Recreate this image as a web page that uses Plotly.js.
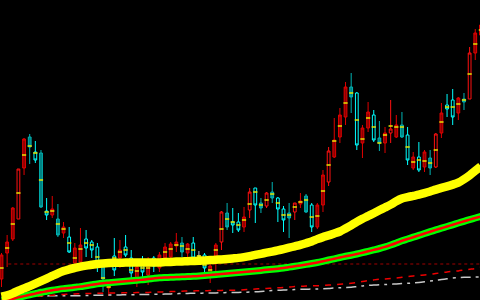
<!DOCTYPE html>
<html>
<head>
<meta charset="utf-8">
<script src="https://cdn.plot.ly/plotly-3.0.1.min.js"></script>
<style>html,body{margin:0;padding:0;background:#000;}#chart{width:480px;height:300px;}</style>
</head>
<body>
<div id="chart"></div>
<script>
// OHLC values (price units), one per bar
const openP = [21,47,61,81,132,163,148,147,89,85, 81,67,63,37,38,61,58,53,36,12, 44,42,53,42,20,35,25,42,32,42, 43,54,57,47,57,44,45,25,43,58, 87,78,78,73,90,112,97,94,108,102, 91,87,88,96,104,95,73,95,118,143, 163,183,213,207,157,172,185,162,157,167, 163,175,165,132,143,133,142,133,167,195, 200,187,201,201,247,265];
const closeP = [45,58,92,131,161,153,140,93,85,91, 65,73,48,52,55,52,50,33,21,14, 30,50,45,27,33,28,35,34,45,53, 56,58,48,56,42,44,32,34,55,88, 73,75,70,83,108,95,92,107,102,91, 80,82,97,99,88,73,95,125,149,160, 185,213,203,155,172,188,160,157,167,171, 175,163,140,143,130,148,132,166,187,191, 183,202,198,247,267,275];
const highP = [47,65,93,131,162,166,159,150,102,104, 96,78,73,57,72,70,60,57,38,15, 62,60,65,50,38,44,43,44,48,57, 58,67,63,57,63,49,47,37,57,89, 97,92,87,93,112,112,102,108,118,103, 94,97,97,107,106,97,97,130,153,182, 192,218,227,208,175,198,190,179,173,200, 185,188,173,148,158,150,150,167,197,206, 211,203,207,253,271,278];
const lowP = [13,33,59,81,125,136,137,92,80,82, 63,62,47,30,32,43,42,28,8,4, 24,32,43,22,13,23,15,28,28,38, 40,48,43,42,38,41,27,17,28,50, 70,67,68,68,82,77,87,92,97,78, 68,62,80,92,87,68,71,88,114,142, 157,175,187,150,142,168,158,149,147,157, 162,162,135,130,128,128,125,132,162,183, 175,180,190,201,240,260];
// yellow tick mark in each body
const avgP = [32,52,76,107,145,154,147,120,88,89, 76,71,57,42,51,57,55,43,22,13, 42,48,50,30,29,32,32,36,40,48, 51,55,54,51,50,44,35,30,50,71, 81,78,75,80,96,108,95,100,106,97, 85,85,93,98,100,83,84,109,135,159, 174,197,207,180,161,182,173,157,165,174, 173,173,153,138,140,139,137,150,178,193, 193,196,200,226,256,270];
// body style: f = filled, h = hollow, g = gray doji
const bodyStyle = "fffhffhfhf" + "ffhffhhhff" + "hfhhfhfhff" + "ffffhghffh" + "fhhfhhfhfh" + "hfhffhffhf" + "fffhffhffh" + "ffhfhffhfh" + "hffhff";
// moving averages
const maYellow = [3.4,4.7,6.7,9.4,11.6,13.9,16.3,18.8,21.4,24.1, 26.7,28.9,30.7,32.1,33.4,34.4,35.2,36.0,36.5,36.9, 37.2,37.3,37.4,37.4,37.5,37.5,37.5,37.6,37.6,37.9, 38.1,38.4,38.6,38.8,39.0,39.2,39.6,39.9,40.2,40.6, 41.1,41.6,42.1,42.9,43.9,45.1,46.2,47.3,48.4,49.6, 50.9,52.3,53.7,55.1,56.8,58.6,60.9,62.9,64.6,66.5, 68.5,71.5,74.7,78.1,81.2,84.0,86.8,89.7,92.5,95.4, 98.8,101.5,102.9,104.1,105.3,106.8,108.5,110.4,112.1,113.7, 115.4,117.4,120.8,124.7,129.2,133.7];
const maGreen = [-0.8,0,1.2,2.6,3.9,5.2,6.4,7.7,8.7,9.7, 10.6,11.4,12.0,12.7,13.4,14.3,15.2,16.1,16.8,17.3, 17.8,18.3,18.8,19.3,19.7,20.3,20.9,21.6,22.2,22.5, 22.7,22.9,23.2,23.5,23.7,24.0,24.4,24.9,25.4,25.9, 26.4,26.9,27.4,27.9,28.5,29.0,29.6,30.2,30.7,31.3, 32.0,32.9,33.7,34.6,35.6,36.5,37.5,38.7,40.0,41.2, 42.5,43.7,44.8,46.0,47.3,48.7,50.1,51.5,53.1,55.0, 57.0,59.2,61.0,62.8,64.6,66.5,68.3,70.1,71.8,73.5, 75.2,77.0,78.7,80.4,82.0,83.5];
const maRedDash = [1.0,1.5,2.0,2.4,2.8,3.2,3.6,4.0,4.4,4.8, 5.2,5.5,5.8,6.1,6.3,6.5,6.6,6.7,6.8,6.9, 7.0,7.1,7.2,7.3,7.4,7.5,7.6,7.8,8.0,8.2, 8.4,8.6,8.8,9.0,9.1,9.2,9.3,9.4,9.5,9.6, 9.7,9.8,9.9,10.2,10.6,11.0,11.3,11.6,11.9,12.2, 12.5,12.9,13.4,13.7,13.9,14.1,14.3,14.5,14.9,15.3, 15.7,16.2,16.7,17.4,18.5,19.4,20.1,20.7,21.1,21.5, 22.0,22.7,23.4,24.0,24.6,25.1,25.7,26.5,27.3,28.1, 28.6,29.1,29.9,30.7,31.5,32.7];
const maGray = [2.5,2.8,3.0,3.2,3.4,3.6,3.8,4.0,4.1,4.2, 4.3,4.3,4.3,4.3,4.3,4.5,4.6,4.7,4.8,4.9, 5.0,5.1,5.2,5.3,5.4,5.5,5.6,5.7,5.8,5.9, 6.1,6.3,6.5,6.6,6.7,6.8,6.9,7.0,7.1,7.3, 7.4,7.5,7.6,7.7,7.9,8.2,8.5,8.9,9.4,9.7, 10.0,10.2,10.5,10.7,10.8,10.9,11.0,11.2,11.5,12.0, 12.3,12.5,12.8,13.4,14.0,14.6,15.0,15.2,15.5,15.8, 16.1,16.4,16.7,17.1,17.5,18.2,19.0,19.7,20.5,21.2, 21.9,22.4,22.7,22.8,23.0,23.1];
// horizontal dashed level
const levelPrice = 36;
const levelFrom = 1.2;
const levelTo = 86;

const idx = openP.map((_, i) => i);

function subset(code) {
  const s = {x: [], open: [], high: [], low: [], close: []};
  idx.forEach(i => {
    if (bodyStyle[i] === code) {
      s.x.push(i); s.open.push(openP[i]); s.high.push(highP[i]);
      s.low.push(lowP[i]); s.close.push(closeP[i]);
    }
  });
  return s;
}
function candle(code, incLine, incFill, decLine, decFill) {
  const s = subset(code);
  return Object.assign({
    type: 'candlestick', hoverinfo: 'skip', whiskerwidth: 0,
    increasing: {line: {color: incLine, width: 1}, fillcolor: incFill},
    decreasing: {line: {color: decLine, width: 1}, fillcolor: decFill}
  }, s);
}
function maLine(y, color, width, dash) {
  return {type: 'scatter', mode: 'lines', x: idx, y: y, hoverinfo: 'skip',
    line: {color: color, width: width, dash: dash || 'solid', shape: 'spline', smoothing: 0.8, simplify: false}};
}

const traces = [
  {type: 'scatter', mode: 'lines', x: [levelFrom, levelTo], y: [levelPrice, levelPrice],
   line: {color: '#a00000', width: 1, dash: '3px,3px'}, hoverinfo: 'skip'},
  maLine(maGray, '#c8c8c8', 1.5, '10px,5px,3px,5px'),
  maLine(maRedDash, '#ee0000', 1.5, '6px,6px'),
  candle('f', '#e00000', '#8c0000', '#00b4b4', '#007f7f'),
  candle('h', '#ff1010', '#000000', '#00ffff', '#000000'),
  candle('g', '#c0c0c0', '#c0c0c0', '#c0c0c0', '#c0c0c0'),
  {type: 'scatter', mode: 'markers', x: idx, y: avgP,
   marker: {symbol: 'line-ew', size: 3, line: {color: '#e6e600', width: 1.5}}, hoverinfo: 'skip'},
  maLine(maGreen, '#00ff00', 7),
  maLine(maGreen, '#ff0000', 2.5),
  maLine(maYellow, '#ffff00', 8.5)
];

const layout = {
  width: 480, height: 300,
  margin: {l: 0, r: 0, t: 0, b: 0, pad: 0},
  paper_bgcolor: '#000000', plot_bgcolor: '#000000',
  showlegend: false,
  xaxis: {range: [-0.266, 84.84], visible: false, rangeslider: {visible: false}, fixedrange: true},
  yaxis: {range: [0, 300], visible: false, fixedrange: true}
};

Plotly.newPlot('chart', traces, layout, {displayModeBar: false, staticPlot: true});
</script>
</body>
</html>
